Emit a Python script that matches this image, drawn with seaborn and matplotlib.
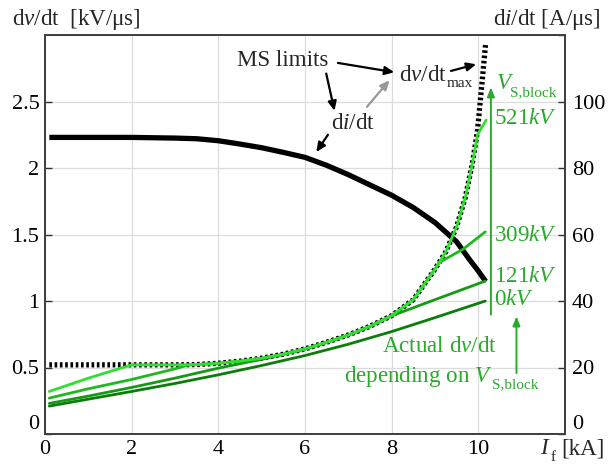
import matplotlib
matplotlib.use("Agg")
import matplotlib.pyplot as plt
import seaborn as sns
import pandas as pd
import numpy as np

# ---------------- data ----------------
# MS limit: maximum dv/dt [kV/us] vs fault current I_f [kA]
dvdt_max_I = [0.1, 1, 2, 3, 3.5, 4, 4.5, 5, 5.5, 6, 6.5, 7, 7.5, 8, 8.5, 9, 9.25, 9.5, 9.7, 9.86, 9.98, 10.05, 10.17]
dvdt_max_v = [0.52, 0.52, 0.52, 0.52, 0.522, 0.532, 0.548, 0.57, 0.60, 0.64, 0.69, 0.745, 0.81, 0.89, 1.01, 1.24, 1.37, 1.56, 1.78, 2.03, 2.28, 2.52, 2.94]

# MS limit: di/dt [A/us] vs I_f [kA]
didt_I = [0.1, 1, 2, 3, 3.5, 4, 4.5, 5, 5.5, 6, 6.5, 7, 7.5, 8, 8.5, 9, 9.5, 9.8, 10.0, 10.17]
didt_v = [89.2, 89.2, 89.2, 89.0, 88.8, 88.2, 87.2, 86.1, 84.7, 83.2, 80.8, 78.0, 74.9, 71.8, 68.1, 63.6, 57.8, 52.4, 49.0, 45.9]

# Actual dv/dt [kV/us] for different V_S,block
v0_I = [0.1, 1, 2, 3, 4, 5, 6, 7, 8, 9, 10.16]
v0_v = [0.21, 0.262, 0.32, 0.38, 0.445, 0.515, 0.59, 0.675, 0.77, 0.875, 1.0]

v121_I = [0.1, 1, 2, 3, 4, 5, 5.5, 6, 6.5, 7, 7.5, 7.97, 9, 10.16]
v121_v = [0.23, 0.285, 0.35, 0.42, 0.495, 0.562, 0.598, 0.638, 0.688, 0.743, 0.808, 0.885, 1.01, 1.15]

v309_I = [0.1, 1, 2, 3, 3.3, 3.5, 4, 4.5, 5, 5.5, 6, 6.5, 7, 7.5, 8, 8.5, 9, 9.1, 9.65, 10.16]
v309_v = [0.27, 0.34, 0.41, 0.49, 0.518, 0.522, 0.532, 0.548, 0.57, 0.60, 0.64, 0.69, 0.745, 0.81, 0.89, 1.01, 1.24, 1.29, 1.39, 1.52]

v521_I = [0.1, 1, 2, 3, 3.5, 4, 4.5, 5, 5.5, 6, 6.5, 7, 7.5, 8, 8.5, 9, 9.25, 9.5, 9.7, 9.86, 9.98, 10.18]
v521_v = [0.32, 0.42, 0.52, 0.52, 0.522, 0.532, 0.548, 0.57, 0.60, 0.64, 0.69, 0.745, 0.81, 0.89, 1.01, 1.24, 1.37, 1.56, 1.78, 2.03, 2.25, 2.36]

block_labels = ["0", "121", "309", "521"]
block_label_y = [1.01, 1.186, 1.49, 2.37]

x_ticks = [0, 2, 4, 6, 8, 10]
yl_ticks = [0, 0.5, 1, 1.5, 2, 2.5]
yl_labels = ["0", "0.5", "1", "1.5", "2", "2.5"]
yr_ticks = [0, 20, 40, 60, 80, 100]

# ---------------- style ----------------
sns.set_style("white")
plt.rcParams["font.family"] = ["Liberation Serif", "DejaVu Serif"]
plt.rcParams["mathtext.fontset"] = "custom"
plt.rcParams["mathtext.rm"] = "Liberation Serif"
plt.rcParams["mathtext.it"] = "Liberation Serif:italic"
plt.rcParams["mathtext.bf"] = "Liberation Serif:bold"

FS = 16
FT = 16.6
FSUB = 11
green_txt = "#2aaa2a"
colors = {"0": "#0b7d0b", "121": "#169a16", "309": "#1fb91f", "521": "#30e030"}

fig = plt.figure(figsize=(6.11, 4.66), dpi=100)
ax2 = fig.add_axes([45 / 611, 32 / 466, 520 / 611, 399 / 466])
ax1 = ax2.twinx()
ax1.set_zorder(2)
ax2.set_zorder(1)
ax1.patch.set_visible(False)

# ---- curves
frames = []
for name, xs, ys in [("0", v0_I, v0_v), ("121", v121_I, v121_v),
                     ("309", v309_I, v309_v), ("521", v521_I, v521_v)]:
    frames.append(pd.DataFrame({"I": xs, "dvdt": ys, "V": name}))
df_green = pd.concat(frames, ignore_index=True)
df_max = pd.DataFrame({"I": dvdt_max_I, "dvdt": dvdt_max_v})
df_didt = pd.DataFrame({"I": didt_I, "didt": didt_v})

sns.lineplot(data=df_max, x="I", y="dvdt", ax=ax1, color="black", linewidth=3.8,
             sort=False, estimator=None, zorder=2)
ax1.lines[-1].set_linestyle((0, (0.5, 0.5)))
ax1.lines[-1].set_dash_capstyle("butt")

sns.lineplot(data=df_green, x="I", y="dvdt", hue="V", palette=colors, ax=ax1,
             linewidth=2.0, sort=False, estimator=None, legend=False, zorder=3,
             units="V")

sns.lineplot(data=df_didt, x="I", y="didt", ax=ax2, color="black", linewidth=3.8,
             sort=False, estimator=None, zorder=3)
ax2.lines[-1].set_solid_capstyle("butt")

# ---------------- axes ----------------
ax1.set_xlim(0, 12)
ax1.set_ylim(0, 3)
ax2.set_xlim(0, 12)
ax2.set_ylim(0, 120)

ax2.set_xticks(x_ticks)
ax2.set_yticks(yr_ticks + [120])
ax2.set_yticklabels([str(t) for t in yr_ticks] + [""])
ax1.set_yticks(yl_ticks)
ax1.set_yticklabels(yl_labels)

ax2.yaxis.tick_right()
ax1.yaxis.tick_left()
ax2.grid(True, color="#dcdcdc", linewidth=0.9)
ax2.set_axisbelow(True)
for ax in (ax1, ax2):
    ax.set_xlabel("")
    ax.set_ylabel("")

ax2.tick_params(axis="x", direction="in", length=5, width=1, labelsize=FS, pad=4, colors="#333333", labelcolor="black")
ax2.tick_params(axis="y", direction="in", length=5, width=1, labelsize=FS, pad=5, left=False, right=True,
                labelleft=False, labelright=True, colors="#333333", labelcolor="black")
ax1.tick_params(axis="y", direction="in", length=5, width=1, labelsize=FS, pad=4, left=True, right=False,
                labelleft=True, labelright=False, colors="#333333", labelcolor="black")

# lift the "0" labels of the y axes above the bottom edge
ax1.get_yticklabels()[0].set_verticalalignment("bottom")
ax2.get_yticklabels()[0].set_verticalalignment("bottom")

for ax in (ax1, ax2):
    for s in ax.spines.values():
        s.set_color("#404040")
        s.set_linewidth(1.3)

# ---------------- annotations ----------------
akw = dict(arrowstyle="-|>,head_length=0.55,head_width=0.25", color="black", lw=1.6,
           shrinkA=0, shrinkB=0)
ax1.text(5.49, 2.81, "MS limits", fontsize=FT, ha="center", va="center")
ax1.annotate("", xy=(8.06, 2.72), xytext=(6.76, 2.79), arrowprops=akw)
ax1.annotate("", xy=(6.68, 2.43), xytext=(6.49, 2.71), arrowprops=akw)
ax1.text(8.17, 2.655, r"d$\mathit{v}$/dt", fontsize=FT, ha="left", va="baseline")
ax1.text(9.26, 2.612, "max", fontsize=FSUB, ha="left", va="baseline")
ax1.annotate("", xy=(9.95, 2.78), xytext=(9.37, 2.73), arrowprops=akw)
ax1.text(7.10, 2.29, r"d$\mathit{i}$/dt", fontsize=FT, ha="center", va="baseline")
gkw = dict(akw)
gkw["color"] = "#999999"
ax1.annotate("", xy=(7.95, 2.66), xytext=(7.43, 2.46), arrowprops=gkw)
ax1.annotate("", xy=(6.26, 2.12), xytext=(6.53, 2.25), arrowprops=akw)

grkw = dict(arrowstyle="-|>,head_length=0.55,head_width=0.22", color=green_txt, lw=1.4,
            shrinkA=0, shrinkB=0)
ax1.annotate("", xy=(10.29, 2.607), xytext=(10.29, 0.897), arrowprops=grkw)
ax1.text(10.40, 2.594, r"$V$", fontsize=FT, color=green_txt, ha="left", va="baseline")
ax1.text(10.72, 2.54, "S,block", fontsize=FSUB, color=green_txt, ha="left", va="baseline")
for lab, yy in zip(block_labels, block_label_y):
    ax1.text(10.37, yy, lab + r"$\mathit{kV}$", fontsize=FT, color=green_txt, ha="left", va="center")

ax1.text(9.10, 0.658, r"Actual d$\mathit{v}$/dt", fontsize=FT, color=green_txt, ha="center", va="center")
ax1.text(6.91, 0.394, r"depending on $V$", fontsize=FT, color=green_txt, ha="left", va="baseline")
ax1.text(10.32, 0.345, "S,block", fontsize=FSUB, color=green_txt, ha="left", va="baseline")
ax1.annotate("", xy=(10.88, 0.885), xytext=(10.88, 0.458), arrowprops=grkw)

# axis labels
fig.text(12 / 611, 1 - 25 / 466, r"d$\mathit{v}$/dt  [kV/μs]", fontsize=FT, ha="left", va="baseline")
fig.text(601 / 611, 1 - 25 / 466, r"d$\mathit{i}$/dt [A/μs]", fontsize=FT, ha="right", va="baseline")
fig.text(540 / 611, 1 - 454 / 466, r"$I$", fontsize=FT, ha="left", va="baseline")
fig.text(551 / 611, 1 - 461 / 466, "f", fontsize=FSUB, ha="left", va="baseline")
fig.text(561 / 611, 1 - 454 / 466, "[kA]", fontsize=FT, ha="left", va="baseline")

fig.savefig("out.png", dpi=100, facecolor="white")
